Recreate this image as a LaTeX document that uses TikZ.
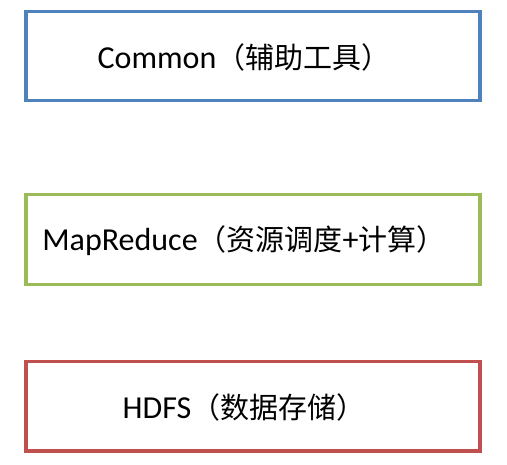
\documentclass[tikz,border=0pt]{standalone}
\usepackage{fontspec}
\setmainfont{Carlito}
\newfontfamily\cjk{Noto Sans CJK SC}
\definecolor{boxblue}{HTML}{4F81BD}
\definecolor{boxgreen}{HTML}{9BBB59}
\definecolor{boxred}{HTML}{C0504D}
\newcommand{\zh}[1]{{\cjk\fontsize{29pt}{32pt}\selectfont #1}}
\begin{document}
\begin{tikzpicture}[x=1pt,y=-1pt,
  layer/.style={line width=3.6pt, fill=white},
  label/.style={font=\fontsize{32pt}{36pt}\selectfont, inner sep=0pt, anchor=center}]
\useasboundingbox (0,0) rectangle (507,465);
\fill[white] (0,0) rectangle (507,465);
\draw[layer, draw=boxblue] (26,11.5) rectangle (480,100.7);
\draw[layer, draw=boxgreen] (26,194.7) rectangle (480,284.7);
\draw[layer, draw=boxred] (26,361.7) rectangle (480,451.3);
\node[label] (common) at (244,57) {Common\zh{（辅助工具）}};
\node[label] (mapreduce) at (244,241) {MapReduce\zh{（资源调度}+\zh{计算）}};
\node[label] (hdfs) at (244,407) {HDFS\zh{（数据存储）}};
\end{tikzpicture}
\end{document}
